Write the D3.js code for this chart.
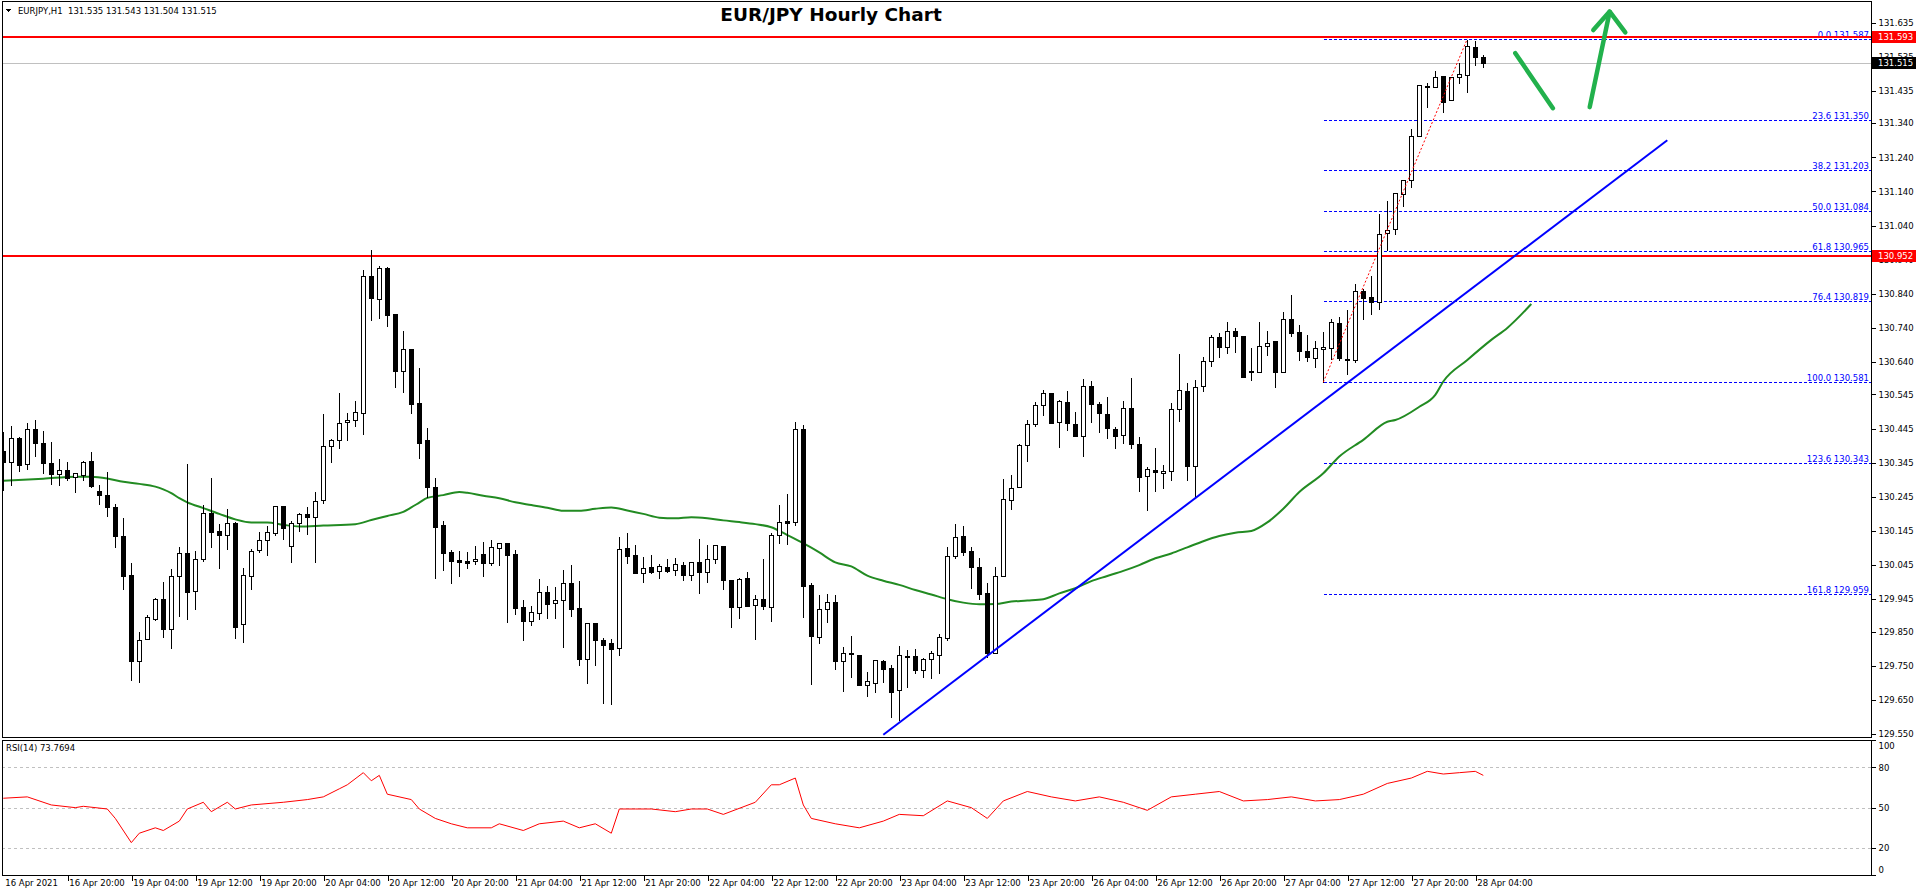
<!DOCTYPE html>
<html>
<head>
<meta charset="utf-8">
<script src="https://cdn.jsdelivr.net/npm/d3@7"></script>
<style>
  body { margin: 0; background: #fff; }
  svg { display: block; }
  text { font-family: "DejaVu Sans", sans-serif; }
</style>
</head>
<body>
<script>
// hourly bars, EURJPY H1, 16 Apr 12:00 .. 28 Apr 05:00
const open = [130.380,130.348,130.417,130.341,130.443,130.402,130.344,130.313,130.323,130.304,130.310,130.350,130.262,130.251,130.216,130.131,130.016,129.765,129.828,129.888,129.946,129.859,130.012,130.080,129.968,130.064,130.197,130.145,130.132,130.169,129.872,130.012,130.088,130.118,130.140,130.217,130.100,130.168,130.195,130.185,130.235,130.393,130.411,130.463,130.469,130.490,130.892,130.826,130.916,130.781,130.613,130.678,130.520,130.411,130.273,130.162,130.083,130.060,130.057,130.056,130.077,130.052,130.094,130.110,130.077,129.921,129.882,129.905,129.966,129.933,129.942,129.992,129.919,129.771,129.875,129.826,129.816,129.801,130.095,130.075,130.021,130.039,130.027,130.039,130.030,130.044,130.015,130.053,130.024,130.062,130.100,130.000,129.923,130.006,129.927,129.945,129.923,130.132,130.175,130.172,130.443,129.986,129.835,129.916,129.936,129.764,129.787,129.781,129.693,129.699,129.763,129.742,129.678,129.779,129.778,129.737,129.769,129.781,129.830,130.071,130.129,130.085,130.039,129.963,129.788,130.012,130.235,130.273,130.396,130.458,130.513,130.548,130.463,130.522,130.458,130.422,130.569,130.516,130.487,130.443,130.425,130.505,130.399,130.305,130.323,130.314,130.320,130.502,130.555,130.335,130.571,130.644,130.713,130.683,130.732,130.716,130.611,130.611,130.688,130.701,130.611,130.765,130.727,130.672,130.653,130.677,130.682,130.753,130.650,130.647,130.847,130.830,130.817,131.017,131.030,131.131,131.172,131.301,131.450,131.445,131.477,131.407,131.474,131.482,131.562,131.535];
const high = [130.439,130.456,130.422,130.464,130.473,130.441,130.409,130.359,130.350,130.316,130.353,130.380,130.282,130.321,130.226,130.186,130.054,129.852,129.902,129.952,129.999,130.037,130.101,130.344,130.089,130.223,130.303,130.169,130.212,130.173,130.039,130.095,130.145,130.163,130.217,130.217,130.177,130.201,130.218,130.261,130.491,130.416,130.551,130.495,130.529,130.912,130.971,130.925,130.921,130.785,130.734,130.678,130.625,130.451,130.303,130.177,130.092,130.088,130.086,130.104,130.115,130.121,130.112,130.114,130.092,129.946,129.928,130.008,129.987,129.984,130.034,130.048,130.001,129.879,129.878,129.835,129.831,130.130,130.141,130.107,130.072,130.078,130.050,130.065,130.068,130.056,130.055,130.123,130.107,130.103,130.102,130.004,130.009,130.028,129.960,130.065,130.141,130.223,130.256,130.468,130.459,129.994,129.960,129.962,129.960,129.807,129.840,129.784,129.735,129.771,129.771,129.755,129.810,129.798,129.803,129.775,129.797,129.846,130.100,130.167,130.162,130.100,130.068,129.995,130.043,130.299,130.311,130.402,130.474,130.526,130.561,130.552,130.533,130.558,130.497,130.592,130.588,130.526,130.540,130.453,130.529,130.595,130.423,130.334,130.391,130.341,130.523,130.667,130.582,130.590,130.659,130.723,130.727,130.759,130.744,130.718,130.684,130.759,130.733,130.701,130.789,130.839,130.751,130.723,130.704,130.730,130.768,130.776,130.795,130.873,130.858,130.894,131.078,131.114,131.138,131.175,131.325,131.456,131.460,131.497,131.479,131.476,131.518,131.587,131.583,131.543];
const low = [130.265,130.280,130.322,130.327,130.365,130.316,130.283,130.280,130.295,130.260,130.295,130.275,130.224,130.190,130.099,129.976,129.708,129.701,129.828,129.884,129.835,129.801,129.897,129.888,129.915,130.058,130.099,130.035,130.093,129.830,129.819,129.976,130.084,130.076,130.134,130.122,130.055,130.146,130.136,130.055,130.226,130.348,130.389,130.411,130.454,130.430,130.764,130.770,130.746,130.568,130.553,130.492,130.360,130.245,130.008,130.030,129.993,130.014,130.037,130.047,130.014,130.044,130.044,129.879,129.902,129.826,129.870,129.888,129.891,129.891,129.806,129.897,129.753,129.700,129.753,129.640,129.637,129.782,130.050,130.021,129.994,130.021,130.008,130.026,130.015,130.002,130.000,129.963,129.995,130.050,129.976,129.863,129.891,129.926,129.828,129.916,129.882,130.111,130.108,130.163,129.894,129.696,129.816,129.877,129.740,129.675,129.716,129.693,129.662,129.674,129.701,129.601,129.591,129.689,129.728,129.716,129.713,129.728,129.824,130.065,130.076,129.977,129.947,129.777,129.786,130.012,130.210,130.273,130.351,130.454,130.485,130.460,130.390,130.442,130.424,130.366,130.463,130.436,130.418,130.389,130.404,130.389,130.263,130.207,130.263,130.272,130.295,130.466,130.295,130.244,130.556,130.629,130.655,130.666,130.670,130.597,130.587,130.611,130.662,130.567,130.611,130.717,130.645,130.643,130.626,130.581,130.650,130.645,130.604,130.639,130.765,130.782,130.796,130.968,131.016,131.098,131.153,131.301,131.387,131.445,131.374,131.407,131.458,131.432,131.509,131.504];
const close = [130.348,130.417,130.337,130.443,130.402,130.345,130.313,130.323,130.301,130.314,130.346,130.278,130.249,130.214,130.129,130.014,129.765,129.825,129.892,129.946,129.859,130.012,130.080,129.965,130.062,130.197,130.143,130.132,130.168,129.863,130.015,130.086,130.118,130.141,130.217,130.153,130.168,130.195,130.185,130.232,130.394,130.411,130.460,130.470,130.493,130.892,130.829,130.916,130.779,130.613,130.678,130.516,130.404,130.275,130.157,130.081,130.058,130.055,130.052,130.062,130.052,130.097,130.110,130.075,129.919,129.882,129.907,129.966,129.932,129.943,129.992,129.917,129.771,129.875,129.824,129.811,129.800,130.091,130.073,130.021,130.036,130.026,130.042,130.029,130.047,130.015,130.053,130.024,130.062,130.103,130.000,129.923,130.003,129.926,129.947,129.926,130.132,130.172,130.169,130.443,129.985,129.838,129.916,129.936,129.765,129.788,129.783,129.693,129.705,129.766,129.740,129.674,129.781,129.777,129.737,129.769,129.786,129.833,130.071,130.126,130.084,130.038,129.961,129.788,130.013,130.238,130.270,130.396,130.458,130.513,130.548,130.460,130.525,130.461,130.424,130.569,130.516,130.490,130.446,130.422,130.505,130.401,130.304,130.326,130.317,130.320,130.502,130.558,130.334,130.568,130.644,130.713,130.685,130.732,130.717,130.597,130.613,130.688,130.697,130.611,130.765,130.726,130.673,130.655,130.680,130.683,130.756,130.652,130.647,130.847,130.828,130.817,131.016,131.028,131.134,131.172,131.301,131.453,131.445,131.474,131.403,131.474,131.483,131.565,131.533,131.515];

// time axis labels, one every 8 bars starting at bar 0
const timeLabels = ['16 Apr 2021','16 Apr 20:00','19 Apr 04:00','19 Apr 12:00','19 Apr 20:00','20 Apr 04:00','20 Apr 12:00','20 Apr 20:00','21 Apr 04:00','21 Apr 12:00','21 Apr 20:00','22 Apr 04:00','22 Apr 12:00','22 Apr 20:00','23 Apr 04:00','23 Apr 12:00','23 Apr 20:00','26 Apr 04:00','26 Apr 12:00','26 Apr 20:00','27 Apr 04:00','27 Apr 12:00','27 Apr 20:00','28 Apr 04:00'];

const priceTicks = [131.635,131.535,131.435,131.340,131.240,131.140,131.040,130.940,130.840,130.740,130.640,130.545,130.445,130.345,130.245,130.145,130.045,129.945,129.850,129.750,129.650,129.550];

// moving average (shifted forward on the chart), read at bar positions
const maIndex = [0,5,9,11,13,15,17,19,20,21,22,23,25,27,29,31,33,35,37,40,44,46,48,50,51,52,53,55,57,58,60,62,64,66,68,70,72,74,76,78,80,82,84,86,88,90,92,94,96,98,100,102,104,106,108,110,112,114,116,118,120,122,124,126,128,130,132,134,136,138,140,142,144,146,148,150,152,154,156,158,160,162,165,167,170,173,174,177,179,180,183,186,188,191];
const maValues = [130.292,130.298,130.304,130.304,130.299,130.289,130.283,130.275,130.267,130.256,130.241,130.229,130.212,130.195,130.179,130.170,130.170,130.163,130.158,130.161,130.165,130.177,130.189,130.201,130.214,130.228,130.242,130.250,130.259,130.257,130.248,130.241,130.229,130.221,130.213,130.204,130.204,130.210,130.214,130.205,130.195,130.184,130.182,130.185,130.182,130.176,130.171,130.165,130.156,130.133,130.109,130.082,130.053,130.041,130.014,129.999,129.987,129.972,129.959,129.945,129.935,129.930,129.931,129.938,129.941,129.945,129.962,129.977,129.998,130.013,130.028,130.045,130.065,130.079,130.097,130.115,130.130,130.140,130.145,130.170,130.210,130.259,130.314,130.363,130.412,130.465,130.470,130.509,130.544,130.583,130.646,130.705,130.740,130.810];

// RSI(14), read at bar positions
const rsiIndex = [0,3,6,9,10,13,14,16,17,19,20,22,23,25,26,28,29,31,35,38,40,42,43,45,46,47,48,51,52,54,56,58,61,62,65,67,70,72,74,76,77,79,81,84,86,88,90,94,96,97,99,100,101,104,107,110,112,115,118,121,123,125,128,131,134,137,140,143,146,149,152,155,158,161,164,167,170,173,176,178,180,182,184,185];
const rsiValues = [57,58,52,50,51,49,42,24,31,35,33,40,49,54,47,54,49,52,54,56,58,64,67,76,70,74,60,56,49,42,38,35,35,38,33,38,40,35,38,31,49,49,49,47,49,49,45,54,67,67,72,52,42,38,35,40,45,44,55,50,42,55,62,58,55,58,54,48,58,60,62,55,56,58,55,56,60,68,72,77,75,76,77,74];

const rsiLevels = [80, 50, 20];
const rsiTicks = [100, 80, 50, 20, 0];

const fibRatios = ['0.0','23.6','38.2','50.0','61.8','76.4','100.0','123.6','161.8'];
const fibPrices = [131.587,131.350,131.203,131.084,130.965,130.819,130.581,130.343,129.959];
const fibSwing = { idx: [165, 183], price: [130.581, 131.587] };

const redLevels = [131.593, 130.952];
const lastPrice = 131.515;
const lastBar = ['131.535', '131.543', '131.504', '131.515'];

const trendIdx = [110, 208];
const trendPrice = [129.548, 131.290];

const arrowDown = { idx: [189.0, 193.7], price: [131.545, 131.384] };
const arrowUp = { idx: [198.3, 200.8], price: [131.387, 131.667] };
const arrowHead = { idx: [198.75, 200.8, 202.75], price: [131.613, 131.667, 131.606] };

// layout
const W = 1916, H = 896;
const plot = { left: 2, right: 1871, top: 1, bottom: 737 };
const sub = { top: 740, bottom: 875 };

const svg = d3.select('body').append('svg')
  .attr('width', W)
  .attr('height', H)
  .style('shape-rendering', 'crispEdges');

const x = d3.scaleLinear().domain([0, 185]).range([3.3, 1483.3]);
const y = d3.scaleLinear().domain([129.550, 131.635]).range([734, 22.5]);
const yr = d3.scaleLinear().domain([0, 100]).range([874.9, 740.4]);

const px = v => Math.round(x(v)) + 0.5;
const py = v => Math.round(y(v)) + 0.5;

svg.append('clipPath').attr('id', 'mainClip')
  .append('rect')
    .attr('x', plot.left).attr('y', plot.top)
    .attr('width', plot.right - plot.left).attr('height', plot.bottom - plot.top);

svg.append('clipPath').attr('id', 'subClip')
  .append('rect')
    .attr('x', plot.left).attr('y', sub.top)
    .attr('width', plot.right - plot.left).attr('height', sub.bottom - sub.top);

const main = svg.append('g').attr('clip-path', 'url(#mainClip)');

// current price line
main.append('line')
  .attr('x1', plot.left).attr('x2', plot.right)
  .attr('y1', py(lastPrice)).attr('y2', py(lastPrice))
  .attr('stroke', '#c0c0c0');

// fibonacci levels
const fibX0 = px(fibSwing.idx[0]);
main.selectAll('.fib').data(fibPrices).enter()
  .append('line')
    .attr('class', 'fib')
    .attr('x1', fibX0).attr('x2', plot.right)
    .attr('y1', d => py(d)).attr('y2', d => py(d))
    .attr('stroke', '#0000ff')
    .attr('stroke-dasharray', '3,2');

main.selectAll('.fibLabel').data(fibPrices).enter()
  .append('text')
    .attr('class', 'fibLabel')
    .attr('x', plot.right - 2)
    .attr('y', d => py(d) - 2)
    .attr('text-anchor', 'end')
    .attr('font-size', '8.5px')
    .attr('fill', '#0000ff')
    .text((d, i) => `${fibRatios[i]} ${d.toFixed(3)}`);

// horizontal resistance/support levels
main.selectAll('.level').data(redLevels).enter()
  .append('line')
    .attr('class', 'level')
    .attr('x1', plot.left).attr('x2', plot.right)
    .attr('y1', d => Math.round(y(d))).attr('y2', d => Math.round(y(d)))
    .attr('stroke', '#ff0000')
    .attr('stroke-width', 2);

// moving average
const maLine = d3.line()
  .x((d, i) => x(maIndex[i]))
  .y(d => y(d))
  .curve(d3.curveMonotoneX);

main.append('path')
  .datum(maValues)
  .attr('d', maLine)
  .attr('fill', 'none')
  .attr('stroke', '#228b22')
  .attr('stroke-width', 2)
  .style('shape-rendering', 'auto');

// candles
const bars = d3.range(open.length);
const candle = main.selectAll('.candle').data(bars).enter()
  .append('g')
    .attr('class', 'candle');

candle.append('line')
  .attr('x1', d => px(d)).attr('x2', d => px(d))
  .attr('y1', d => py(high[d])).attr('y2', d => py(low[d]))
  .attr('stroke', '#000');

candle.append('rect')
  .attr('x', d => px(d) - 2)
  .attr('width', 4)
  .attr('y', d => py(Math.max(open[d], close[d])))
  .attr('height', d => Math.max(1, py(Math.min(open[d], close[d])) - py(Math.max(open[d], close[d]))))
  .attr('fill', d => close[d] >= open[d] ? '#fff' : '#000')
  .attr('stroke', '#000');

// fibonacci swing line
main.append('line')
  .attr('x1', x(fibSwing.idx[0])).attr('y1', y(fibSwing.price[0]))
  .attr('x2', x(fibSwing.idx[1])).attr('y2', y(fibSwing.price[1]))
  .attr('stroke', '#ff0000')
  .attr('stroke-dasharray', '2,2')
  .style('shape-rendering', 'auto');

// trend line
main.append('line')
  .attr('x1', x(trendIdx[0])).attr('y1', y(trendPrice[0]))
  .attr('x2', x(trendIdx[1])).attr('y2', y(trendPrice[1]))
  .attr('stroke', '#0000ff')
  .attr('stroke-width', 2)
  .style('shape-rendering', 'auto');

// green arrows
const arrowLine = d3.line().x(d => x(d[0])).y(d => y(d[1]));
[arrowDown, arrowUp, arrowHead].forEach(a => {
  main.append('path')
    .attr('d', arrowLine(a.idx.map((k, i) => [k, a.price[i]])))
    .attr('fill', 'none')
    .attr('stroke', '#22b14c')
    .attr('stroke-width', 4.5)
    .attr('stroke-linecap', 'round')
    .attr('stroke-linejoin', 'round')
    .style('shape-rendering', 'auto');
});

// RSI panel
const subG = svg.append('g').attr('clip-path', 'url(#subClip)');

subG.selectAll('.rsiLevel').data(rsiLevels).enter()
  .append('line')
    .attr('x1', plot.left).attr('x2', plot.right)
    .attr('y1', d => Math.round(yr(d)) + 0.5).attr('y2', d => Math.round(yr(d)) + 0.5)
    .attr('stroke', '#c0c0c0')
    .attr('stroke-dasharray', '3,3');

const rsiLine = d3.line()
  .x((d, i) => x(rsiIndex[i]))
  .y(d => yr(d));

subG.append('path')
  .datum(rsiValues)
  .attr('d', rsiLine)
  .attr('fill', 'none')
  .attr('stroke', '#ff0000')
  .attr('stroke-width', 1)
  .style('shape-rendering', 'auto');

// frames
[[plot.top, plot.bottom], [sub.top, sub.bottom]].forEach(([t, b]) => {
  svg.append('rect')
    .attr('x', plot.left + 0.5).attr('y', t + 0.5)
    .attr('width', plot.right - plot.left).attr('height', b - t)
    .attr('fill', 'none')
    .attr('stroke', '#000');
});

// price axis
const yAxis = d3.axisRight(y)
  .tickValues(priceTicks)
  .tickFormat(d3.format('.3f'))
  .tickSize(4)
  .tickPadding(3);

svg.append('g')
  .attr('class', 'axis-y')
  .attr('transform', `translate(${plot.right + 0.5}, 0)`)
  .call(yAxis)
  .call(g => g.select('.domain').remove())
  .call(g => g.selectAll('text').attr('font-size', '8.5px').attr('font-family', '"DejaVu Sans", sans-serif').attr('fill', '#000'));

// price tags
const tags = [
  { price: redLevels[0], fill: '#ff0000' },
  { price: lastPrice, fill: '#000000' },
  { price: redLevels[1], fill: '#ff0000' }
];
const tagG = svg.selectAll('.tag').data(tags).enter()
  .append('g').attr('class', 'tag');
tagG.append('rect')
  .attr('x', plot.right + 1)
  .attr('y', d => Math.round(y(d.price)) - 6)
  .attr('width', W - plot.right - 1)
  .attr('height', 12)
  .attr('fill', d => d.fill);
tagG.append('text')
  .attr('x', plot.right + 7)
  .attr('y', d => y(d.price))
  .attr('dy', '0.35em')
  .attr('font-size', '8.5px')
  .attr('fill', '#fff')
  .text(d => d.price.toFixed(3));

// RSI axis
const rAxis = d3.axisRight(yr)
  .tickValues(rsiTicks)
  .tickSize(4)
  .tickPadding(3);

svg.append('g')
  .attr('class', 'axis-r')
  .attr('transform', `translate(${plot.right + 0.5}, 0)`)
  .call(rAxis)
  .call(g => g.select('.domain').remove())
  .call(g => g.selectAll('text').attr('font-size', '8.5px').attr('font-family', '"DejaVu Sans", sans-serif').attr('fill', '#000'))
  .call(g => g.selectAll('.tick').filter(d => d === 100).select('text').attr('dy', '0.95em'))
  .call(g => g.selectAll('.tick').filter(d => d === 0).select('text').attr('dy', '-0.3em'));

// time axis
const tickIdx = timeLabels.map((d, i) => i * 8);
const xAxis = d3.axisBottom(x)
  .tickValues(tickIdx)
  .tickFormat((d, i) => timeLabels[i])
  .tickSize(5);

svg.append('g')
  .attr('class', 'axis-x')
  .attr('transform', `translate(0.5, ${sub.bottom + 0.5})`)
  .call(xAxis)
  .call(g => g.select('.domain').remove())
  .call(g => g.selectAll('.tick').filter(d => d === 0).select('line').remove())
  .call(g => g.selectAll('text')
    .attr('font-size', '8.5px')
    .attr('font-family', '"DejaVu Sans", sans-serif')
    .attr('fill', '#000')
    .attr('text-anchor', 'start')
    .attr('x', 1)
    .attr('y', 4));

// header texts
svg.append('path')
  .attr('d', 'M6,9 L11,9 L8.5,12 Z')
  .attr('fill', '#000');

svg.append('text')
  .attr('x', 18).attr('y', 14)
  .attr('font-size', '8.5px')
  .text(`EURJPY,H1  ${lastBar.join(' ')}`)
  .style('white-space', 'pre');

svg.append('text')
  .attr('x', 831).attr('y', 21)
  .attr('text-anchor', 'middle')
  .attr('font-family', '"Liberation Sans", Arial, sans-serif')
  .attr('font-weight', 'bold')
  .attr('font-size', '18.5px')
  .text('EUR/JPY Hourly Chart');

svg.append('text')
  .attr('x', 6).attr('y', 751)
  .attr('font-size', '8.5px')
  .text('RSI(14) 73.7694');
</script>
</body>
</html>
